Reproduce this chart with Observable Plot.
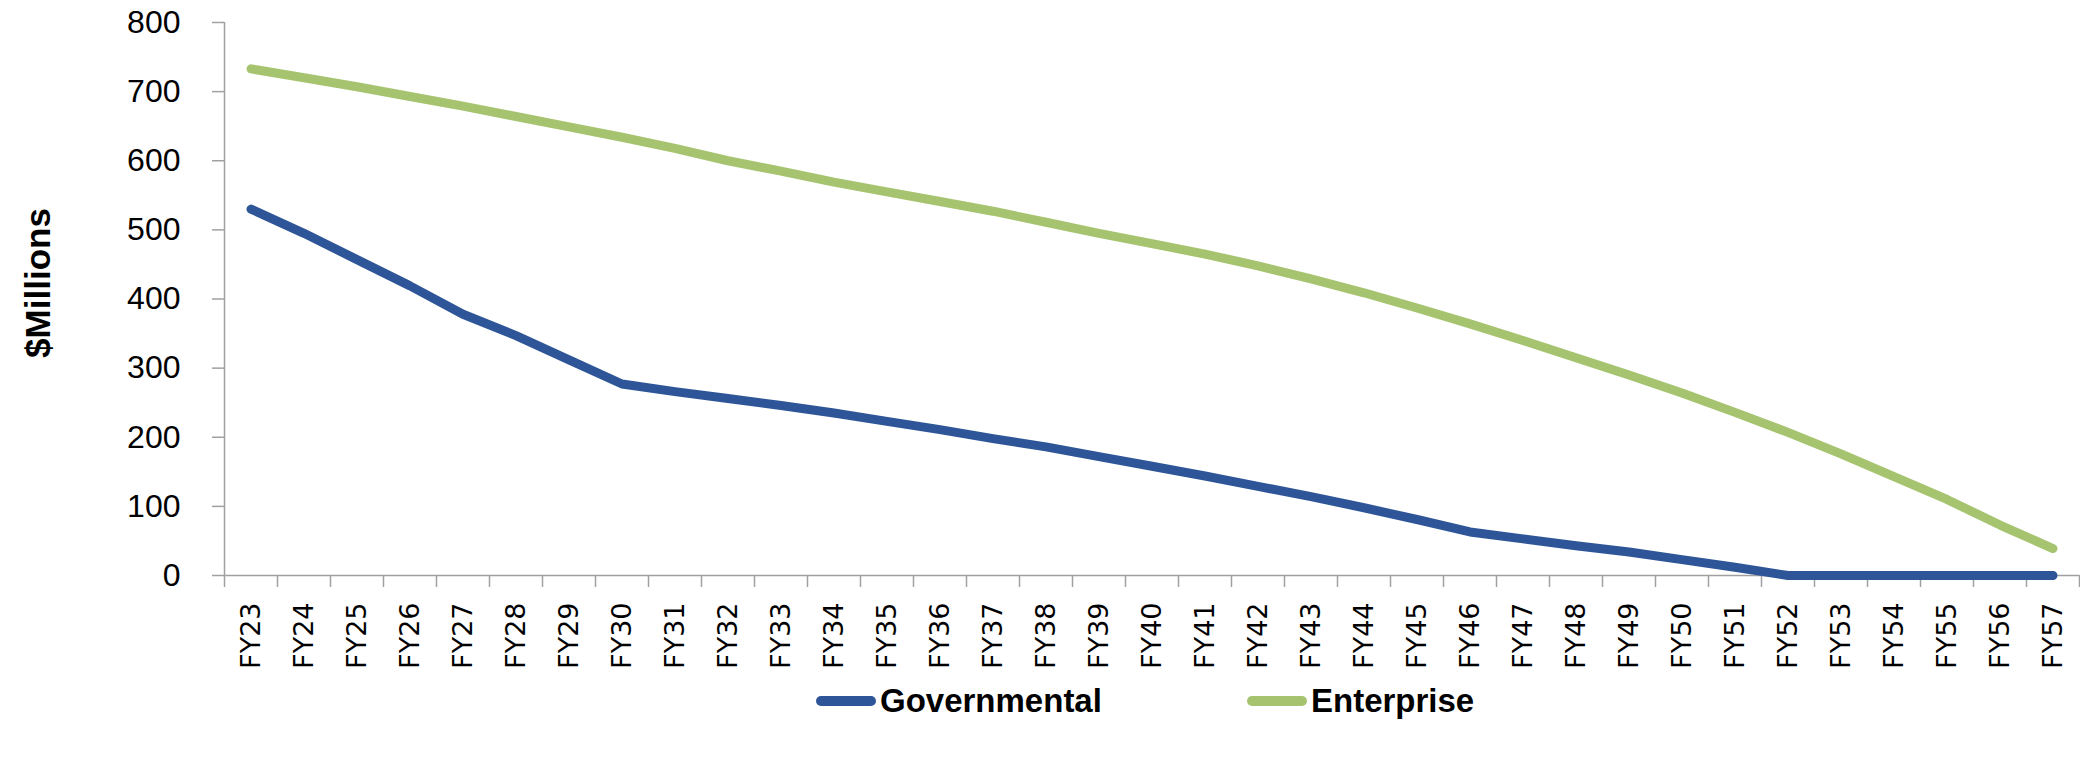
<!DOCTYPE html>
<html><head><meta charset="utf-8">
<script src="https://cdn.jsdelivr.net/npm/d3@7"></script>
<script src="https://cdn.jsdelivr.net/npm/@observablehq/plot@0.6"></script>
<style>
html,body{margin:0;padding:0;background:#fff;overflow:hidden;}
#chart{position:relative;width:2080px;}
#chart svg{display:block;}
#legend{position:relative;width:2080px;height:67px;font-family:"Liberation Sans",Arial,sans-serif;font-weight:bold;font-size:33px;color:#000;}
.item{position:absolute;top:-10px;height:42px;display:flex;align-items:center;white-space:nowrap;}
.sw{width:60px;height:10px;border-radius:5px;margin-right:4px;}
</style></head><body>
<div id="chart"></div>
<div id="legend"></div>
<script>
const years = ["FY23","FY24","FY25","FY26","FY27","FY28","FY29","FY30","FY31","FY32","FY33","FY34","FY35","FY36","FY37","FY38","FY39","FY40","FY41","FY42","FY43","FY44","FY45","FY46","FY47","FY48","FY49","FY50","FY51","FY52","FY53","FY54","FY55","FY56","FY57"];
const governmental = [530,495,457,419,378,347,312,277,266,256,246,235,223,211,198,186,172,158,144,129,114,98,81,63,53,43,34,23,12,0,0,0,0,0,0];
const enterprise = [733,720,707,693,679,664,649,634,618,600,585,569,555,541,527,511,495,480,465,448,429,409,387,364,340,315,290,264,236,207,176,143,110,73,39];
const seriesNames = ["Governmental","Enterprise"];
const seriesColors = ["#2E5597","#A6C46F"];
const yTicks = [0,100,200,300,400,500,600,700,800];
const yLabel = "$Millions";

const data = years.flatMap((yr, i) => [
  {i, year: yr, series: seriesNames[0], value: governmental[i]},
  {i, year: yr, series: seriesNames[1], value: enterprise[i]}
]);
const idx = d3.range(years.length);
const boundaries = d3.range(years.length + 1).map(k => k - 0.5);
const axisGray = "#A0A0A0";

const chart = Plot.plot({
  width: 2080,
  height: 690,
  marginLeft: 224,
  marginRight: 1,
  marginTop: 22,
  marginBottom: 115,
  style: {background: "#fff", overflow: "visible"},
  x: {type: "linear", domain: [-0.5, years.length - 0.5]},
  y: {domain: [0, 800]},
  color: {domain: seriesNames, range: seriesColors},
  marks: [
    Plot.ruleX([-0.5], {y1: 0, y2: 800, stroke: axisGray, strokeWidth: 1.5}),
    Plot.axisY(yTicks, {tickSize: 12, tickPadding: 32, stroke: axisGray, strokeWidth: 1.5, fontSize: 32, fontFamily: "Liberation Sans", fill: "#000", label: null}),
    Plot.axisX(boundaries, {tickSize: 12, stroke: axisGray, strokeWidth: 1.5, tickFormat: () => "", label: null}),
    Plot.axisX(idx, {tickSize: 0, tickPadding: 27, tickRotate: -90, tickFormat: i => years[i], fontSize: 27, fontFamily: "DejaVu Sans", fill: "#000", label: null}),
    Plot.ruleY([0], {stroke: axisGray, strokeWidth: 1.5}),
    Plot.line(data, {x: "i", y: "value", z: "series", stroke: "series", strokeWidth: 9, strokeLinejoin: "round", strokeLinecap: "round"}),
    Plot.text([yLabel], {frameAnchor: "left", dx: -186, dy: -16, rotate: -90, fontSize: 35, fontWeight: "bold", fontFamily: "Liberation Sans", fill: "#000", textAnchor: "middle"})
  ]
});
document.getElementById("chart").appendChild(chart);

const legend = document.getElementById("legend");
const legendLeft = [816, 1247];
seriesNames.forEach((name, k) => {
  const item = document.createElement("div");
  item.className = "item";
  item.style.left = legendLeft[k] + "px";
  const sw = document.createElement("div");
  sw.className = "sw";
  sw.style.background = seriesColors[k];
  const t = document.createElement("span");
  t.textContent = name;
  item.appendChild(sw);
  item.appendChild(t);
  legend.appendChild(item);
});
</script>
</body></html>
